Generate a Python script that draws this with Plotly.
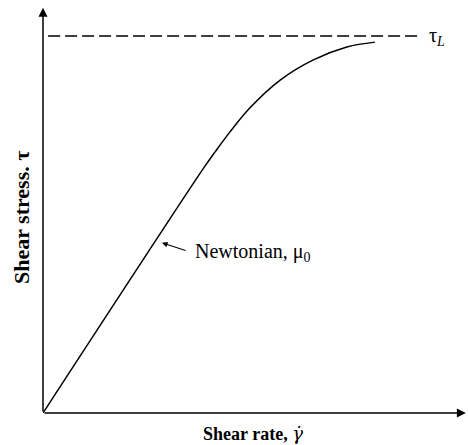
import plotly.graph_objects as go

# Data (arbitrary units)
shear_rate = [0.0, 38.1, 40.5, 44.0, 48.7, 55.8, 63.5, 71.5, 78.1]
shear_stress = [0.0, 60.5, 64.0, 68.9, 74.8, 81.6, 86.5, 89.7, 90.9]
tau_L = 92.4
dash_x = [1.2, 89.2]
newton_tip = (28.0, 41.7)
newton_tail = (33.9, 39.7)

SERIF = "Liberation Serif, Times New Roman, serif"

fig = go.Figure()
fig.add_trace(go.Scatter(x=shear_rate, y=shear_stress, mode="lines",
                         line=dict(color="black", width=1.5, shape="spline", smoothing=1.0),
                         hoverinfo="skip"))
fig.add_trace(go.Scatter(x=dash_x, y=[tau_L, tau_L], mode="lines",
                         line=dict(color="black", width=1.5, dash="12px,5px"),
                         hoverinfo="skip"))

ann = []
# axes with arrows
ann.append(dict(x=99.5, y=0, ax=0, ay=0, xref="x", yref="y", axref="x", ayref="y",
                text="", showarrow=True, arrowhead=2, arrowsize=1.2, arrowwidth=1.5,
                arrowcolor="black", standoff=0))
ann.append(dict(x=0, y=99.3, ax=0, ay=0, xref="x", yref="y", axref="x", ayref="y",
                text="", showarrow=True, arrowhead=2, arrowsize=1.2, arrowwidth=1.5,
                arrowcolor="black", standoff=0))
# Newtonian arrow
ann.append(dict(x=newton_tip[0], y=newton_tip[1], ax=newton_tail[0], ay=newton_tail[1],
                xref="x", yref="y", axref="x", ayref="y", text="", showarrow=True,
                arrowhead=2, arrowsize=1.0, arrowwidth=1.1, arrowcolor="black", standoff=0))
ann.append(dict(x=35.3, y=39.4, xref="x", yref="y", text="Newtonian, μ<sub>0</sub>",
                showarrow=False, xanchor="left", yanchor="middle",
                font=dict(family=SERIF, size=20, color="black")))
# tau_L label
ann.append(dict(x=90.3, y=tau_L, xref="x", yref="y", text="τ<sub><i>L</i></sub>",
                showarrow=False, xanchor="left", yanchor="middle",
                font=dict(family=SERIF, size=20, color="black")))
# axis titles
ann.append(dict(x=(253 - 43) / 425, y=-0.05, xref="paper", yref="paper",
                text="<b>Shear rate, </b><i><span style=\"font-family:'DejaVu Serif'\">γ̇</span></i>",
                showarrow=False, xanchor="center", yanchor="middle",
                font=dict(family=SERIF, size=18, color="black")))
ann.append(dict(x=(22 - 43) / 425, y=(413 - 218) / 408, xref="paper", yref="paper",
                text="<b>Shear stress. τ</b>", showarrow=False, textangle=-90,
                xanchor="center", yanchor="middle",
                font=dict(family=SERIF, size=22, color="black")))

fig.update_layout(
    width=468, height=445,
    margin=dict(l=43, r=0, t=5, b=32),
    paper_bgcolor="white", plot_bgcolor="white",
    showlegend=False,
    xaxis=dict(range=[0, 100], visible=False, fixedrange=True),
    yaxis=dict(range=[0, 100], visible=False, fixedrange=True),
    annotations=ann,
)
fig.write_html("out.html")
